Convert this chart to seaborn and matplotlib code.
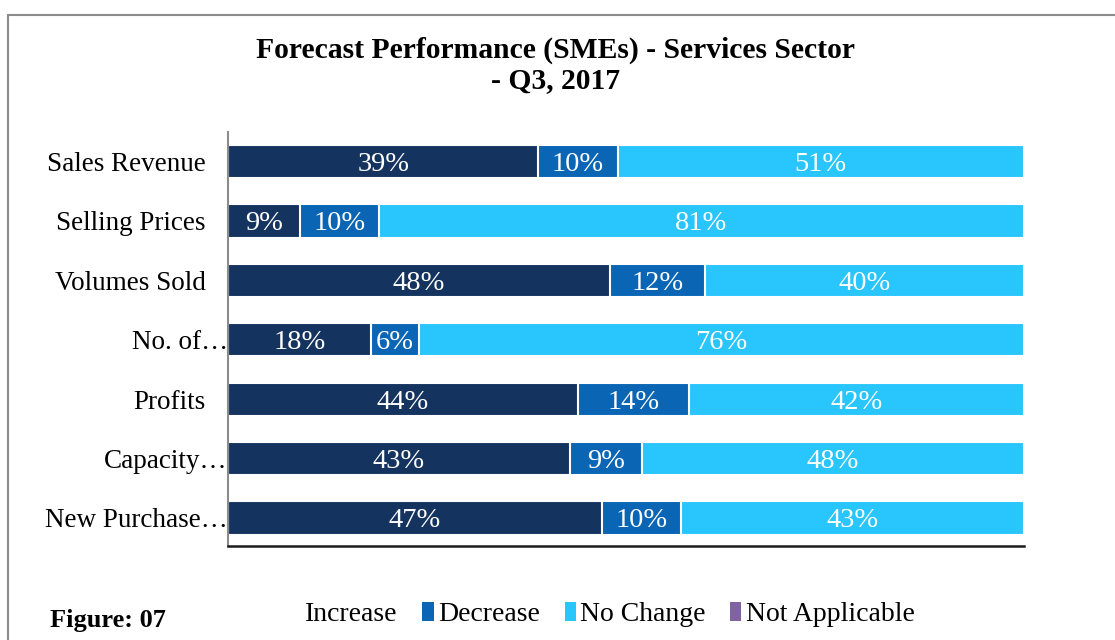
import matplotlib
matplotlib.use("Agg")
import matplotlib.pyplot as plt
import matplotlib.transforms as mtransforms
import seaborn as sns
import pandas as pd
import numpy as np
from matplotlib.patches import Patch, Rectangle

categories = ["Sales Revenue", "Selling Prices", "Volumes Sold", "No. of\u2026",
              "Profits", "Capacity\u2026", "New Purchase\u2026"]
increase = [39, 9, 48, 18, 44, 43, 47]
decrease = [10, 10, 12, 6, 14, 9, 10]
no_change = [51, 81, 40, 76, 42, 48, 43]
not_applicable = [0, 0, 0, 0, 0, 0, 0]
series_names = ["Increase", "Decrease", "No Change", "Not Applicable"]
colors = ["#14345f", "#0a66b5", "#29c6fd", "#8064a2"]

sns.set_theme(style="white")
plt.rcParams["font.family"] = ["Liberation Serif", "DejaVu Serif"]
plt.rcParams["text.color"] = "black"

fig = plt.figure(figsize=(11.15, 6.40), dpi=100)
ax = fig.add_axes([0.2045, 0.147, 0.918 - 0.2045, 0.794 - 0.147])

df = pd.DataFrame({"cat": categories, "inc": increase, "dec": decrease,
                   "nc": no_change, "na": not_applicable})
df["c_inc"] = df["inc"]
df["c_dec"] = df["inc"] + df["dec"]
df["c_nc"] = df["c_dec"] + df["nc"]
df["c_na"] = df["c_nc"] + df["na"]

for col, color in zip(["c_na", "c_nc", "c_dec", "c_inc"], colors[::-1]):
    sns.barplot(data=df, x=col, y="cat", orient="h", color=color, width=0.56,
                edgecolor="white", linewidth=1.5, ax=ax, saturation=1)

for i, row in df.iterrows():
    starts = [0, row["c_inc"], row["c_dec"]]
    vals = [row["inc"], row["dec"], row["nc"]]
    for s, v in zip(starts, vals):
        if v > 0:
            ax.text(s + v / 2, i, f"{v}%", ha="center", va="center_baseline",
                    color="white", fontsize=20.5)

ax.set_xlim(0, 100)
ax.set_ylim(6.47, -0.5)
ax.set_xlabel("")
ax.set_ylabel("")
ax.set_xticks([])
ax.tick_params(axis="y", length=0, pad=16, labelsize=19.5, labelcolor="black")
for s in ["top", "right"]:
    ax.spines[s].set_visible(False)
ax.spines["left"].set_color("#8c8c8c")
ax.spines["left"].set_linewidth(1.5)
ax.spines["bottom"].set_color("#1a1a1a")
ax.spines["bottom"].set_linewidth(1.8)

# truncated labels run up to the axis line, as in the original
shift = mtransforms.ScaledTranslation(22 / 100, 0, fig.dpi_scale_trans)
for lab in ax.get_yticklabels():
    if lab.get_text().endswith("\u2026"):
        lab.set_transform(lab.get_transform() + shift)

fig.text(0.498, 0.898, "Forecast Performance (SMEs) - Services Sector\n- Q3, 2017",
         ha="center", va="center", fontsize=21.3, fontweight="bold",
         linespacing=1.17, color="black")

handles = [Patch(facecolor="white" if n == "Increase" else c, edgecolor="none")
           for n, c in zip(series_names, colors)]
fig.legend(handles, series_names, loc="center", bbox_to_anchor=(0.54, 0.04),
           ncol=4, frameon=False, fontsize=20, handlelength=0.4,
           handleheight=0.7, handletextpad=0.15, columnspacing=0.9,
           labelcolor="black")

fig.text(0.045, 0.03, "Figure: 07", ha="left", va="center", fontsize=19,
         fontweight="bold", color="black")

fig.patches.append(Rectangle((8 / 1115, -0.05), 1.2, 1 - 15 / 640 + 0.05,
                             transform=fig.transFigure, fill=False,
                             edgecolor="#8c8c8c", linewidth=1.5))

fig.savefig("out.png", dpi=100)
